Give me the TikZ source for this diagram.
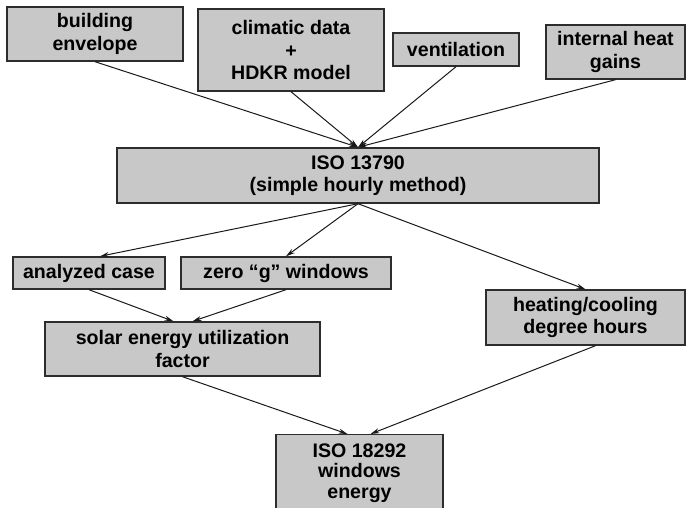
\documentclass[tikz,border=0pt]{standalone}
\usepackage{fontspec}
\setmainfont{Liberation Sans}
\usetikzlibrary{arrows.meta}
\definecolor{boxgray}{RGB}{200,200,200}
\definecolor{edgegray}{RGB}{45,45,45}
\tikzset{
  blok/.style={draw=edgegray, fill=boxgray, line width=1.4pt, align=center,
    inner sep=0pt, font=\bfseries\fontsize{19.6}{22.5}\selectfont},
  pijl/.style={-{Stealth[length=9pt,width=5pt]}, line width=1pt, draw=black!90},
}
\begin{document}
\begin{tikzpicture}[x=1pt,y=-1pt]
			\path[use as bounding box, clip] (0,0) rectangle (686,508);
			\node[blok, minimum width=176, minimum height=54] (env) at (95,34) {building\\envelope};
			\node[blok, minimum width=186, minimum height=82] (clim) at (291,50) {climatic data\\+\\HDKR model};
			\node[blok, minimum width=126, minimum height=33] (vent) at (456,49.5) {ventilation};
			\node[blok, minimum width=139, minimum height=54] (gain) at (615.5,52) {internal heat\\gains};
			\node[blok, minimum width=482, minimum height=55] (iso1) at (358,175.5) {ISO 13790\\(simple hourly method)};
			\node[blok, minimum width=152, minimum height=32] (case) at (89,273) {analyzed case};
			\node[blok, minimum width=210, minimum height=32] (zero) at (286,273) {zero ``g'' windows};
			\node[blok, minimum width=275, minimum height=54] (solar) at (182.5,349) {solar energy utilization\\factor};
			\node[blok, minimum width=199, minimum height=55] (deg) at (585.5,317.5) {heating/cooling\\degree hours};
			\node[blok, minimum width=167, anchor=north, inner ysep=9pt,
			  font=\bfseries\fontsize{19.6}{20.5}\selectfont] (iso2) at (359.5,434) {ISO 18292\\windows\\energy};
			\draw[pijl] (env.south) -- (iso1.north);
			\draw[pijl] (clim.south) -- (iso1.north);
			\draw[pijl] (vent.south) -- (iso1.north);
			\draw[pijl] (gain.south) -- (iso1.north);
			\draw[pijl] (iso1.south) -- ([xshift=11pt]case.north);
			\draw[pijl] (iso1.south) -- (zero.north);
			\draw[pijl] (iso1.south) -- (deg.north);
			\draw[pijl] (case.south) -- ([xshift=-9pt]solar.north);
			\draw[pijl] (zero.south) -- ([xshift=10pt]solar.north);
			\draw[pijl] (solar.south) -- ([xshift=-12pt]iso2.north);
			\draw[pijl] ([xshift=10pt]deg.south) -- ([xshift=11pt]iso2.north);
\end{tikzpicture}
\end{document}
